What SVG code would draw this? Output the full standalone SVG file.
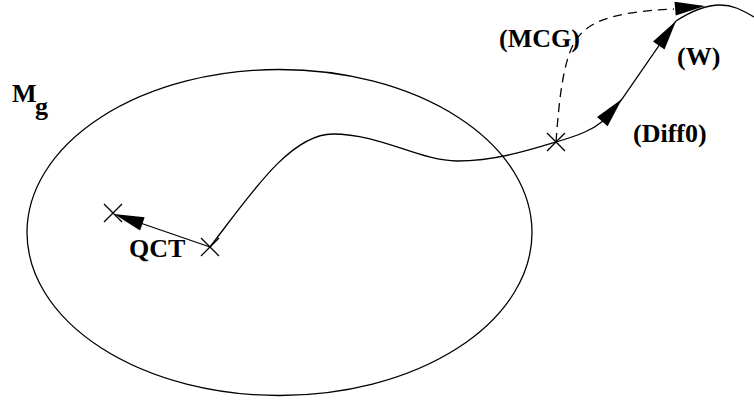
<svg xmlns="http://www.w3.org/2000/svg" width="754" height="405" viewBox="0 0 754 405">
<style>
.ln{fill:none;stroke:#000;stroke-width:1.3}
.dash{stroke-dasharray:9,6}
.ah{fill:#000;stroke:none}
.lbl{font-family:"Liberation Serif","Times New Roman",serif;font-weight:bold;font-size:26px;fill:#000}
</style>
<defs>
<path id="arrow" d="M0,0 L-30,-7 L-30,7 Z"/>
<path id="cross" d="M-9,-9 L9,9 M-9,9 L9,-9"/>
</defs>
<rect width="754" height="405" fill="#fff"/>
<g id="Mg">
<ellipse class="ln" cx="279.5" cy="232.5" rx="252.5" ry="163"/>
<text class="lbl" x="12" y="102">M</text>
<text class="lbl" x="35" y="115">g</text>
</g>
<g id="connectors">
<path class="ln" d="M210,247 C250,195 290,134 333,134 C380,134 420,161 457,161 C495,161 530,150 556,142 C580,135 592,130 603,121 L622,99 L676,21 C690,12 705,5 720,5 C735,5 745,12 754,17"/>
<path class="ln dash" d="M556,142 C559,100 563,65 573,45 C585,22 610,12 674,9"/>
<line class="ln" x1="210" y1="247" x2="120" y2="216"/>
<use href="#arrow" class="ah" transform="translate(114,214) rotate(199)"/>
<use href="#arrow" class="ah" transform="translate(622,99) rotate(-49)"/>
<use href="#arrow" class="ah" transform="translate(676,21) rotate(-55)"/>
<use href="#arrow" class="ah" transform="translate(705,6) rotate(-5)"/>
</g>
<g id="p_start"><use href="#cross" class="ln" transform="translate(113,213)"/></g>
<g id="p_qct"><use href="#cross" class="ln" transform="translate(210,247)"/></g>
<g id="p_branch"><use href="#cross" class="ln" transform="translate(556,142)"/></g>
<g id="labels">
<text class="lbl" x="129" y="257">QCT</text>
<text class="lbl" x="499" y="47">(MCG)</text>
<text class="lbl" x="677" y="65">(W)</text>
<text class="lbl" x="633" y="142">(Diff0)</text>
</g>
</svg>
